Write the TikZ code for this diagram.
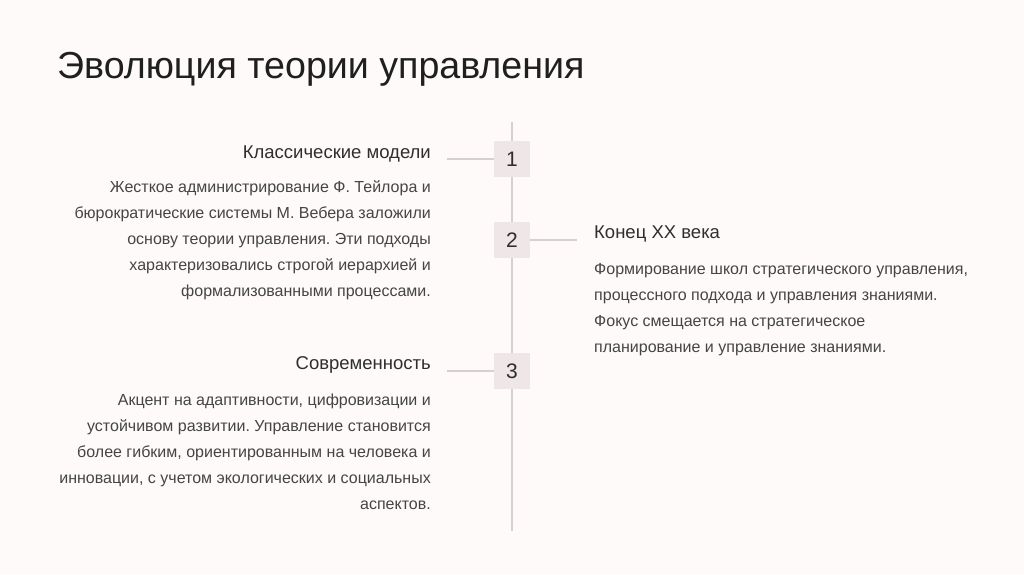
\documentclass[tikz,border=0pt]{standalone}
\usepackage{fontspec}
\setmainfont{Liberation Sans}
\frenchspacing
\definecolor{bg}{HTML}{FDFAF9}
\definecolor{linec}{HTML}{D8CFCF}
\definecolor{boxc}{HTML}{EFE7E7}
\definecolor{headc}{HTML}{2E2E2E}
\definecolor{bodyc}{HTML}{454545}
\begin{document}
\begin{tikzpicture}[x=1pt,y=-1pt,
  numbox/.style={fill=boxc,minimum width=36pt,minimum height=36pt,inner sep=0pt,
     font=\fontsize{21}{24}\selectfont,text=headc},
  conn/.style={draw=linec,line width=1.8pt},
  head/.style={inner sep=0pt,font=\fontsize{18.5}{22}\selectfont,text=headc},
  body/.style={inner sep=0pt,font=\fontsize{16}{26}\selectfont,text=bodyc}]
\fill[bg] (0,0) rectangle (1024,574);
\useasboundingbox (0,0) rectangle (1024,574);
\node[anchor=base west,inner sep=0pt,font=\fontsize{37.6}{44}\selectfont,text=black!88] (title) at (57,78) {Эволюция теории управления};
\coordinate (ttop) at (512,122);
\coordinate (tbot) at (512,531);
\draw[conn] (ttop) -- (tbot);
\node[numbox] (n1) at (512,159) {1};
\node[numbox] (n2) at (512,240) {2};
\node[numbox] (n3) at (512,371) {3};
\coordinate (l1) at (447,159);
\coordinate (r2) at (577,240);
\coordinate (l3) at (447,371);
\draw[conn] (l1) -- (n1.west);
\draw[conn] (n2.east) -- (r2);
\draw[conn] (l3) -- (n3.west);
\node[head,anchor=base east] (h1) at (431,158) {Классические модели};
\node[body,anchor=north east,align=right] (b1) at (431,180) {Жесткое администрирование Ф. Тейлора и\\бюрократические системы М. Вебера заложили\\основу теории управления. Эти подходы\\характеризовались строгой иерархией и\\формализованными процессами.};
\node[head,anchor=base west] (h2) at (594,238) {Конец XX века};
\node[body,anchor=north west,align=left] (b2) at (594,263) {Формирование школ стратегического управления,\\процессного подхода и управления знаниями.\\Фокус смещается на стратегическое\\планирование и управление знаниями.};
\node[head,anchor=base east] (h3) at (431,369) {Современность};
\node[body,anchor=north east,align=right] (b3) at (431,393.5) {Акцент на адаптивности, цифровизации и\\устойчивом развитии. Управление становится\\более гибким, ориентированным на человека и\\инновации, с учетом экологических и социальных\\аспектов.};
\end{tikzpicture}
\end{document}
